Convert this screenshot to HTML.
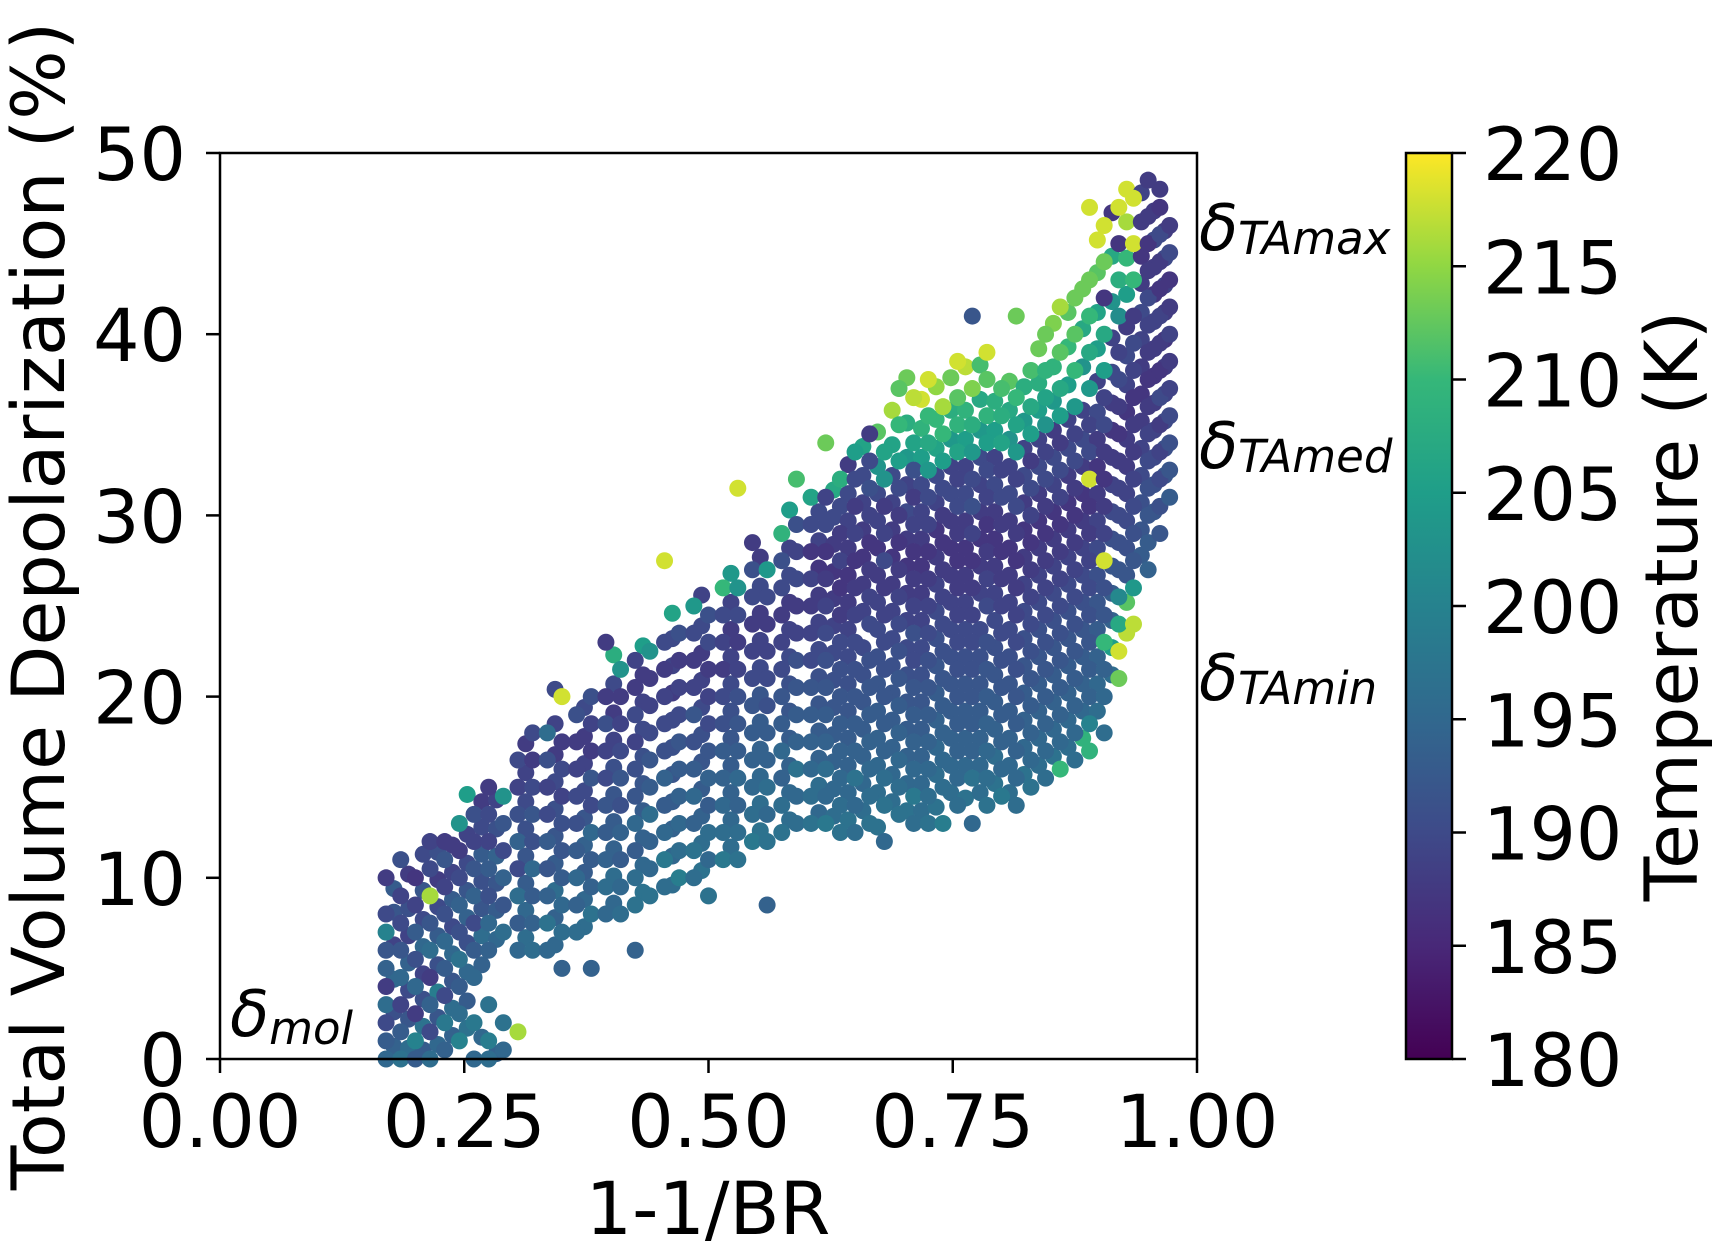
<!DOCTYPE html>
<html><head><meta charset="utf-8"><style>
html,body{margin:0;padding:0;background:#fff;}
svg text{font-family:"DejaVu Sans","Liberation Sans",sans-serif;fill:#000;}
</style></head><body>
<svg id="chart" xmlns="http://www.w3.org/2000/svg" width="1712" height="1248" viewBox="0 0 1712 1248">
<defs>
<linearGradient id="viridis" x1="0" y1="1" x2="0" y2="0">
<stop offset="0" stop-color="#440154"/><stop offset="0.125" stop-color="#482878"/><stop offset="0.25" stop-color="#3e4a89"/><stop offset="0.375" stop-color="#31688e"/><stop offset="0.5" stop-color="#26828e"/><stop offset="0.625" stop-color="#1f9e89"/><stop offset="0.75" stop-color="#35b779"/><stop offset="0.875" stop-color="#90d743"/><stop offset="1" stop-color="#fde725"/>
</linearGradient>
</defs>
<g id="points"></g>
<rect x="220" y="153" width="977" height="906" fill="none" stroke="#000" stroke-width="2.5"/>
<g id="xticks"></g>
<g id="yticks"></g>
<text x="708" y="1234" font-size="73" text-anchor="middle">1-1/BR</text>
<text transform="translate(64,606) rotate(-90)" font-size="73" text-anchor="middle">Total Volume Depolarization (%)</text>
<text x="1199" y="250" font-size="64" font-style="italic">δ<tspan font-size="45" dy="4">TAmax</tspan></text>
<text x="1199" y="468" font-size="64" font-style="italic">δ<tspan font-size="45" dy="4">TAmed</tspan></text>
<text x="1199" y="700" font-size="64" font-style="italic">δ<tspan font-size="45" dy="4">TAmin</tspan></text>
<text x="230" y="1036" font-size="64" font-style="italic">δ<tspan font-size="45" dy="8">mol</tspan></text>
<rect x="1406" y="153" width="46" height="906" fill="url(#viridis)" stroke="#000" stroke-width="2.5"/>
<g id="cticks"></g>
<text transform="translate(1697,606) rotate(-90)" font-size="73" text-anchor="middle">Temperature (K)</text>
</svg>
<script>
const xTickLabels = ["0.00","0.25","0.50","0.75","1.00"];
const xTickValues = [0,0.25,0.5,0.75,1];
const yTickValues = [0,10,20,30,40,50];
const cTickValues = [180,185,190,195,200,205,210,215,220];
const columnX = [0.17,0.185,0.20,0.215,0.23,0.245,0.26,0.275,0.29,0.305,0.32,0.335,0.35,0.365,0.38,0.395,0.41,0.425,0.44,0.455,0.47,0.485,0.50,0.515,0.53,0.545,0.56,0.575,0.59,0.605,0.62,0.635,0.65,0.665,0.68,0.695,0.71,0.725,0.74,0.755,0.77,0.785,0.80,0.815,0.83,0.845,0.86,0.875,0.89,0.905,0.92,0.935,0.95,0.962,0.972];
const columnY = [
[0,1,2,3,4,5,6,7,8,10],
[0,1.5,3,4.5,6,7.5,9,11],
[0,1,2.5,4,5.5,7,8.5,10],
[0,1.5,3,4.5,6,7.5,9,10.5,12],
[0.5,2,3.5,5,6.5,8,9.5,11,12],
[1,2.5,4,5.5,7,8.5,10,11.5,13],
[0,2,4.5,6,7.5,9,10.5,12,13.5],
[0,1,3,6,7.5,9,10.5,12,13.5,15],
[0.5,2,7,8.5,10,11.5,13,14.5],
[1.5,6,7.5,9,10.5,12,13.5,15,16.5],
[6,7.5,9,10.5,12,13.5,15,16.5,18],
[6,7.5,9,10.5,12,13.5,15,16.5,18],
[5,7,8.5,10,11.5,13,14.5,16,17.5,20],
[7,8.5,10,11.5,13,14.5,16,17.5,19],
[5,8,9.5,11,12.5,14,15.5,17,18.5,20],
[8,9.5,11,12.5,14,15.5,17,18.5,20,23],
[8,9.5,11,12.5,14,15.5,17,18.5,20,21.5],
[6,8.5,10,11.5,13,14.5,16,17.5,19,20.5,22],
[9,10.5,12,13.5,15,16.5,18,19.5,21,22.5],
[9.5,11,12.5,14,15.5,17,18.5,20,21.5,23,27.5],
[10,11.5,13,14.5,16,17.5,19,20.5,22,23.5],
[10,11.5,13,14.5,16,17.5,19,20.5,22,23.5,25],
[9,11,12.5,14,15.5,17,18.5,20,21.5,23,24.5],
[11,12.5,14,15.5,17,18.5,20,21.5,23,24.5,26],
[11,12.5,14,15.5,17,18.5,20,21.5,23,24.5,26,31.5],
[12,13.5,15,16.5,18,19.5,21,22.5,24,25.5,27,28.5],
[8.5,12,13.5,15,16.5,18,19.5,21,22.5,24,25.5,27],
[12.5,14,15.5,17,18.5,20,21.5,23,24.5,26,27.5,29],
[13,14.5,16,17.5,19,20.5,22,23.5,25,26.5,28,29.5,32],
[13,14.5,16,17.5,19,20.5,22,23.5,25,26.5,28,29.5,31],
[13,14.5,16,17.5,19,20.5,22,23.5,25,26.5,28,29.5,31,34],
[12.5,14,15.5,17,18.5,20,21.5,23,24.5,26,27.5,29,30.5,32],
[12.5,14,15.5,17,18.5,20,21.5,23,24.5,26,27.5,29,30.5,32,33.5],
[13,14.5,16,17.5,19,20.5,22,24,25.5,27,28.5,30,31.5,33,34.5],
[12,14,15.5,17,18.5,20,21.5,23,24.5,26,27.5,29,30.5,32,33.5],
[13.5,15,16.5,18,19.5,21,22.5,24,25.5,27,28.5,30,31.5,33,35,37],
[13,14.5,16,17.5,19,20.5,22,23.5,25,26.5,28,29.5,31,32.5,34,36.5],
[13,14.5,16,17.5,19,20.5,22,23.5,25,26.5,28,29.5,31,32.5,34,35.5,37.5],
[13,15,16.5,18,19.5,21,22.5,24,25.5,27,28.5,30,31.5,33,34.5,36],
[14,15.5,17,18.5,20,21.5,23,24.5,26,27.5,29,30.5,32,33.5,35,36.5,38.5],
[13,15.5,17,18.5,20,21.5,23,24.5,26,27.5,29,30.5,32,33.5,35,37,41],
[14,15.5,17,18.5,20,21.5,23,25,26.5,28,29.5,31,32.5,34,35.5,37.5,39],
[14.5,16,17.5,19,20.5,22,23.5,25,26.5,28,29.5,31,32.5,34,35.5,37],
[14,15.5,17,18.5,20,21.5,23,24.5,26,27.5,29,30.5,32,33.5,35,36.5,41],
[15,16.5,18,19.5,21,22.5,24,25.5,27,28.5,30,31.5,33,34.5,36,38],
[15.5,17,18.5,20,21.5,23,24.5,26,27.5,29,30.5,32,33.5,35,36.5,38,40],
[16,17.5,19,20.5,22,23.5,25,26.5,28,29.5,31,32.5,34,35.5,37,39,41.5],
[16.5,18,19.5,21,22.5,24,25.5,27,28.5,30,31.5,33,34.5,36,38,40,42],
[17,18.5,20,21.5,23,24.5,26,27.5,29,30.5,32,33.5,35,37,39,41,43,47],
[18,20,21.5,23,24.5,26,27.5,29,30.5,32,33.5,35,36.5,38,40,42,44,46],
[21,22.5,24,25.5,27,28.5,30,31.5,33,34.5,36,37.5,39,41,43,45,47],
[24,26,27.5,29,30.5,32,33.5,35,36.5,38,39.5,41,43,45,47.5],
[27,28.5,30,31.5,33,34.5,36,37.5,39,40.5,42,43.5,45,46.5,48.5],
[29,30.5,32,33.5,35,36.5,38,39.5,41,42.5,44,45.5,47,48],
[31,32.5,34,35.5,37,38.5,40,41.5,43,44.5,46]
];
const columnT = [
[195,193,190,196,188,194,192,200,190,188],
[197,193,189,195,192,190,189,191],
[193,200,188,195,191,193,189,187],
[196,190,194,188,196,192,216,190,189],
[194,198,190,193,195,191,189,192,188],
[200,196,193,197,191,194,190,188,203],
[195,198,195,193,190,194,192,189,191],
[196,199,197,194,195,191,193,189,190,188],
[195,197,196,192,194,190,192,203],
[216,195,193,196,190,194,191,189,190],
[196,194,193,195,191,192,190,188,190],
[195,197,194,192,193,190,189,191,196],
[194,196,195,193,192,191,189,190,188,218],
[196,194,195,193,191,190,189,188,191],
[194,197,194,193,195,190,192,188,189,191],
[195,196,194,193,192,190,189,191,188,188],
[196,195,193,194,191,192,190,189,188,203],
[194,197,196,193,195,192,191,189,190,188,189],
[197,195,194,196,193,192,190,189,188,203],
[196,198,195,193,194,191,190,189,188,190,218],
[199,196,195,194,193,192,190,189,188,191],
[196,197,194,195,193,191,192,189,188,190,204],
[197,195,196,193,194,192,190,189,188,190,191],
[198,196,195,194,193,191,190,188,189,190,210],
[197,196,194,195,193,192,191,189,188,190,203,218],
[198,196,195,194,193,192,190,189,188,190,191,188],
[194,197,195,196,194,193,191,190,189,188,190,204],
[197,196,194,195,193,192,190,189,188,190,191,209],
[196,195,197,194,193,192,191,189,188,190,189,191,211],
[197,196,195,194,193,192,190,189,188,189,187,190,206],
[198,195,196,194,193,192,191,190,189,188,187,190,189,213],
[197,196,195,194,193,192,191,190,188,187,189,188,190,208],
[196,195,197,194,193,192,191,190,189,188,187,189,188,190,205],
[197,196,195,194,193,192,191,190,189,188,187,189,191,190,188],
[195,197,196,194,193,192,191,190,189,188,190,189,188,203,206],
[197,196,195,194,193,192,191,190,189,188,187,188,190,205,210,212],
[196,198,195,194,193,192,190,191,189,188,187,189,188,191,206,217],
[197,196,195,194,193,192,191,190,189,188,187,189,190,204,207,210,218],
[199,196,195,194,193,192,191,190,189,188,187,188,190,205,210,216],
[196,195,194,193,192,191,190,189,188,187,188,190,189,206,209,212,218],
[195,197,194,193,192,191,190,189,188,187,189,191,190,204,208,214,192],
[197,196,195,194,193,192,191,190,189,188,187,189,190,205,209,212,218],
[198,195,194,193,192,191,190,189,188,187,188,190,189,206,208,211],
[196,195,194,193,192,191,190,189,188,187,188,190,189,204,206,210,213],
[197,195,194,193,192,191,190,189,188,187,189,190,188,205,207,211],
[196,195,194,193,192,191,190,189,188,187,188,190,189,203,206,209,213],
[210,195,194,193,192,191,190,189,188,187,189,190,188,205,207,212,216],
[196,195,194,193,192,191,190,189,188,187,188,190,189,204,210,212,213],
[209,200,194,193,192,191,190,189,188,187,218,190,189,204,207,210,213,218],
[196,195,194,210,192,191,218,189,188,187,188,190,189,205,207,187,213,218],
[213,218,207,201,192,191,190,189,188,187,188,190,189,202,208,187,218],
[217,204,192,191,190,189,188,188,187,189,190,188,210,218,218],
[194,193,192,191,190,189,188,187,188,189,190,188,187,188,188],
[192,191,190,189,188,190,187,188,189,187,188,190,187,188],
[193,192,191,190,189,188,189,188,187,190,188]
];
/* second, interleaved set of samples */
const extraX = [0.178,0.193,0.208,0.223,0.238,0.253,0.268,0.283,0.313,0.343,0.373,0.403,0.433,0.463,0.493,0.523,0.553,0.583,0.613,0.628,0.643,0.658,0.673,0.688,0.703,0.718,0.733,0.748,0.763,0.778,0.793,0.808,0.823,0.838,0.853,0.868,0.883,0.898,0.913,0.928,0.943,0.956,0.967];
const extraY = [
[0.7,2.6,4.4,6.3,8.1,9.4],
[0.6,2.2,3.8,5.3,6.8,8.3,10.2],
[0.5,1.8,3.3,4.7,6.2,7.7,9.3,11.3],
[0.8,2.3,3.7,5.2,6.8,8.4,9.9,11.4],
[1.3,2.8,4.3,5.8,7.3,8.8,10.3,11.8],
[1.7,3.2,4.8,6.4,7.8,9.3,10.8,12.4,14.6],
[1.2,5.2,6.8,8.3,9.8,11.3,12.8,14.2],
[0.3,6.6,8.2,9.7,11.2,12.7,14.3],
[6.7,8.2,9.7,11.2,12.7,14.2,15.8,17.4],
[6.3,7.8,9.3,10.8,12.3,13.8,15.3,16.8,18.5,20.4],
[7.3,8.8,10.3,11.8,13.3,14.8,16.3,17.8,19.4],
[8.6,10.1,11.6,13.1,14.6,16.1,17.6,19.1,20.7,22.3],
[9.2,10.7,12.2,13.7,15.2,16.7,18.2,19.7,21.2,22.8],
[9.6,11.2,12.7,14.2,15.7,17.2,18.7,20.2,21.7,23.2,24.6],
[10.4,11.9,13.4,14.9,16.4,17.9,19.4,20.9,22.4,23.9,25.6],
[11.7,13.2,14.7,16.2,17.7,19.2,20.7,22.2,23.7,25.2,26.8],
[12.6,14.1,15.6,17.1,18.6,20.1,21.6,23.1,24.6,26.1,27.7],
[13.2,14.7,16.2,17.7,19.2,20.7,22.2,23.7,25.2,26.7,28.2,30.3],
[13.6,15.1,16.6,18.1,19.6,21.1,22.6,24.1,25.6,27.1,28.6,30.2],
[13.4,14.9,16.4,17.9,19.4,20.9,22.4,23.9,25.4,26.9,28.4,29.9,31.4],
[13.2,14.7,16.2,17.7,19.2,20.7,22.2,23.7,25.2,26.7,28.2,29.7,31.2,32.8],
[13.7,15.2,16.7,18.2,19.7,21.2,22.7,24.7,26.2,27.7,29.2,30.7,32.2,33.8],
[12.8,14.7,16.2,17.7,19.2,20.7,22.2,23.7,25.2,26.7,28.2,29.7,31.2,32.7,34.6],
[14.2,15.7,17.2,18.7,20.2,21.7,23.2,24.7,26.2,27.7,29.2,30.7,32.2,33.9,35.8],
[13.7,15.2,16.7,18.2,19.7,21.2,22.7,24.2,25.7,27.2,28.7,30.2,31.7,33.2,35.1,37.6],
[13.7,15.2,16.7,18.2,19.7,21.2,22.7,24.2,25.7,27.2,28.7,30.2,31.7,33.2,34.8,36.4],
[13.9,15.7,17.2,18.7,20.2,21.7,23.2,24.7,26.2,27.7,29.2,30.7,32.2,33.7,35.3,37.1],
[14.7,16.2,17.7,19.2,20.7,22.2,23.7,25.2,26.7,28.2,29.7,31.2,32.7,34.2,35.8,37.6],
[14.4,16.2,17.7,19.2,20.7,22.2,23.7,25.2,26.7,28.2,29.7,31.2,32.7,34.2,35.8,38.2],
[14.7,16.2,17.7,19.2,20.7,22.2,23.7,25.7,27.2,28.7,30.2,31.7,33.2,34.7,36.4,38.3],
[15.2,16.7,18.2,19.7,21.2,22.7,24.2,25.7,27.2,28.7,30.2,31.7,33.2,34.7,36.3],
[14.7,16.2,17.7,19.2,20.7,22.2,23.7,25.2,26.7,28.2,29.7,31.2,32.7,34.2,35.8,37.4],
[15.7,17.2,18.7,20.2,21.7,23.2,24.7,26.2,27.7,29.2,30.7,32.2,33.7,35.2,37.1],
[16.2,17.7,19.2,20.7,22.2,23.7,25.2,26.7,28.2,29.7,31.2,32.7,34.2,35.8,37.3,39.2],
[16.7,18.2,19.7,21.2,22.7,24.2,25.7,27.2,28.7,30.2,31.7,33.2,34.7,36.3,38.2,40.6],
[17.2,18.7,20.2,21.7,23.2,24.7,26.2,27.7,29.2,30.7,32.2,33.7,35.3,37.2,39.3,41.2],
[17.7,19.2,20.7,22.2,23.7,25.2,26.7,28.2,29.7,31.2,32.7,34.2,35.8,38.2,40.3,42.5],
[19.2,20.7,22.2,23.7,25.2,26.7,28.2,29.7,31.2,32.7,34.2,35.7,37.4,39.2,41.2,43.4,45.2],
[21.2,22.7,24.2,25.7,27.2,28.7,30.2,31.7,33.2,34.7,36.2,37.9,39.8,41.8,44.3,46.7],
[23.5,25.2,26.7,28.2,29.7,31.2,32.7,34.2,35.7,37.2,38.8,40.4,42.2,44.2,46.2,48.0],
[27.8,29.2,30.7,32.2,33.7,35.2,36.7,38.2,39.7,41.2,42.8,44.3,46.2,47.8],
[30.2,31.7,33.2,34.7,36.2,37.7,39.2,40.7,42.2,43.7,45.2,46.8],
[32.2,33.7,35.2,36.7,38.2,39.7,41.2,42.7,44.2,45.7]
];
const extraT = [
[194,191,195,189,192,193],
[196,192,190,194,189,191,188],
[193,197,191,189,195,190,192,190],
[195,192,199,191,193,190,188,191],
[194,196,192,195,190,193,189,188],
[197,193,195,191,194,192,190,189,205],
[195,194,196,192,191,193,190,188],
[194,195,193,192,194,191,189],
[196,195,193,192,191,190,189,188],
[195,194,196,193,192,191,190,188,189,190],
[196,195,193,194,192,190,189,188,190],
[195,196,194,193,192,191,189,188,190,208],
[197,195,194,193,192,191,190,189,188,205],
[196,195,194,193,192,191,190,188,189,190,206],
[197,196,194,193,192,191,190,189,188,190,189],
[196,195,194,193,192,191,190,189,188,189,204],
[197,196,195,194,193,192,190,189,188,190,188],
[196,195,194,193,192,191,190,189,188,190,189,205],
[195,196,194,193,192,191,190,189,188,187,189,190],
[196,195,194,193,192,191,190,189,188,187,188,190,207],
[197,195,194,193,192,191,190,189,188,187,188,189,190,188],
[196,195,194,193,192,191,190,189,188,187,188,189,190,206],
[197,196,195,194,193,192,191,190,189,188,187,189,190,203,212],
[196,195,194,193,192,191,190,189,188,187,188,189,190,206,216],
[197,195,194,193,192,191,190,189,188,187,188,190,189,204,208,213],
[196,195,194,193,192,191,190,189,188,187,188,189,190,205,209,218],
[197,196,195,194,193,192,191,190,189,188,187,189,190,206,210,215],
[196,195,194,193,192,191,190,189,188,187,188,190,189,204,208,213],
[197,195,194,193,192,191,190,189,188,187,188,190,189,205,209,217],
[196,195,194,193,192,191,190,189,188,187,188,189,190,204,207,211],
[197,196,194,193,192,191,190,189,188,187,188,190,189,205,208],
[196,195,194,193,192,191,190,189,188,187,188,190,189,203,207,212],
[197,195,194,193,192,191,190,189,188,187,188,190,189,204,208],
[196,195,194,193,192,191,190,189,188,187,188,190,189,205,208,213],
[197,195,194,193,192,191,190,189,188,187,189,190,188,204,209,214],
[196,195,194,193,192,191,190,189,188,187,188,190,189,205,210,212],
[209,195,194,193,192,191,190,189,188,187,188,190,189,203,207,213],
[196,195,194,193,192,191,190,189,188,187,188,190,189,205,206,212,218],
[196,205,194,193,192,191,190,189,188,187,188,190,189,203,207,187,218],
[217,212,192,191,190,189,188,188,187,189,190,188,205,210,216,218],
[193,192,191,190,189,188,187,188,189,190,188,187,188,189],
[192,191,190,189,188,187,188,189,187,188,190,188],
[192,191,190,189,188,187,188,189,190,188]
];

const NS = "http://www.w3.org/2000/svg";
const PL = 220, PR = 1197, PT = 153, PB = 1059;
function xScale(v){ return PL + v * (PR - PL); }
function yScale(v){ return PB - v / 50 * (PB - PT); }
function cScale(v){ return PB - (v - 180) / 40 * (PB - PT); }
const vir = [[68,1,84],[72,40,120],[62,74,137],[49,104,142],[38,130,142],[31,158,137],[53,183,121],[144,215,67],[253,231,37]];
function viridis(t){
  let u = Math.max(0, Math.min(1, (t - 180) / 40)) * 8;
  let i = Math.min(7, Math.floor(u)), f = u - i;
  const a = vir[i], b = vir[i+1];
  return "rgb(" + [0,1,2].map(k => Math.round(a[k] + (b[k]-a[k]) * f)).join(",") + ")";
}
function mk(tag, attrs, parent){
  const e = document.createElementNS(NS, tag);
  for (const k in attrs) e.setAttribute(k, attrs[k]);
  parent.appendChild(e); return e;
}
const gp = document.getElementById("points");
function drawSet(xs, yss, tss){
  xs.forEach((cx, ci) => {
    yss[ci].forEach((yv, pi) => {
      const c = mk("circle", {cx: xScale(cx), cy: yScale(yv), r: 8.5, fill: viridis(tss[ci][pi])}, gp);
      
      
    });
  });
}
drawSet(extraX, extraY, extraT);
drawSet(columnX, columnY, columnT);
const gx = document.getElementById("xticks");
xTickValues.forEach((v, i) => {
  const x = xScale(v);
  const l = mk("line", {x1: x, x2: x, y1: PB, y2: PB + 14, stroke: "#000", "stroke-width": 2.5}, gx);
  
  
  const t = mk("text", {x: x, y: 1147, "font-size": 73, "text-anchor": "middle"}, gx);
  t.textContent = xTickLabels[i];
  
  
});
const gy = document.getElementById("yticks");
yTickValues.forEach(v => {
  const y = yScale(v);
  const l = mk("line", {x1: PL - 14, x2: PL, y1: y, y2: y, stroke: "#000", "stroke-width": 2.5}, gy);
  
  
  const t = mk("text", {x: 186, y: y + 27, "font-size": 73, "text-anchor": "end"}, gy);
  t.textContent = String(v);
  
  
});
const gc = document.getElementById("cticks");
cTickValues.forEach(v => {
  const y = cScale(v);
  const l = mk("line", {x1: 1452, x2: 1466, y1: y, y2: y, stroke: "#000", "stroke-width": 2.5}, gc);
  
  
  const t = mk("text", {x: 1483, y: y + 27, "font-size": 73}, gc);
  t.textContent = String(v);
  
  
});
</script>
</body></html>
